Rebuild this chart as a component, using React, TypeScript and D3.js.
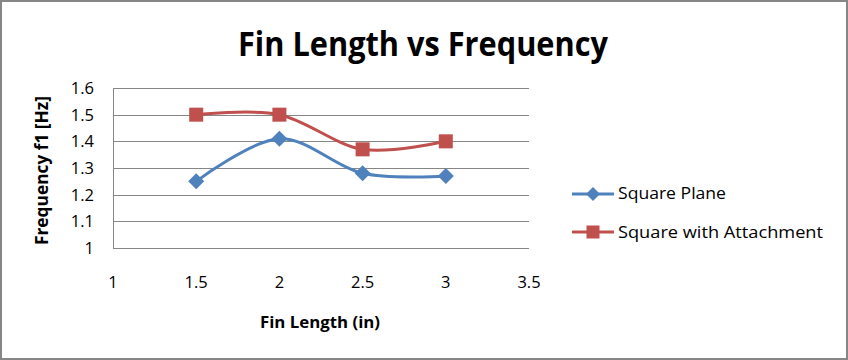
import React from "react";
import * as d3 from "d3";

const finLength = [1.5, 2, 2.5, 3];
const squarePlane = [1.25, 1.41, 1.28, 1.27];
const squareWithAttachment = [1.5, 1.5, 1.37, 1.4];
const xTicks = [1, 1.5, 2, 2.5, 3, 3.5];
const yTicks = [1, 1.1, 1.2, 1.3, 1.4, 1.5, 1.6];
const seriesNames = ["Square Plane", "Square with Attachment"];

const W = 848;
const H = 360;
const FONT = "'Open Sans', 'Liberation Sans', sans-serif";

export default function App() {
  const x = d3.scaleLinear().domain([1, 3.5]).range([113, 529]);
  const y = d3.scaleLinear().domain([1, 1.6]).range([248, 88]);
  const line = d3
    .line<number>()
    .x((_, i) => x(finLength[i]))
    .y((d) => y(d))
    .curve(d3.curveCatmullRom.alpha(0));

  const blue = "#4F81BD";
  const red = "#C0504D";

  const diamond = (cx: number, cy: number, r: number, key?: string) => (
    <path
      key={key}
      d={`M${cx},${cy - r}L${cx + r},${cy}L${cx},${cy + r}L${cx - r},${cy}Z`}
      fill={blue}
    />
  );
  const square = (cx: number, cy: number, s: number, key?: string) => (
    <rect key={key} x={cx - s / 2} y={cy - s / 2} width={s} height={s} fill={red} />
  );

  return (
    <svg
      width={W}
      height={H}
      style={{ position: "absolute", left: 0, top: 0, background: "#fff" }}
      fontFamily={FONT}
    >
      <rect x={1} y={1} width={W - 2} height={H - 2} fill="#fff" stroke="#868686" strokeWidth={2} />
      <text
        x={423}
        y={56}
        textAnchor="middle"
        fontSize={34}
        fontWeight="bold"
        fill="#000"
        textLength={370}
        lengthAdjust="spacingAndGlyphs"
      >
        Fin Length vs Frequency
      </text>

      {yTicks.map((t) => (
        <g key={t}>
          <line x1={113} x2={529} y1={Math.round(y(t)) + 0.5} y2={Math.round(y(t)) + 0.5} stroke="#868686" />
          <text x={94} y={y(t) + 6} textAnchor="end" fontSize={16.5} fill="#000">
            {t}
          </text>
        </g>
      ))}
      <line x1={113.5} x2={113.5} y1={88} y2={248} stroke="#868686" />

      {xTicks.map((t) => (
        <text key={t} x={x(t)} y={288} textAnchor="middle" fontSize={16.5} fill="#000">
          {t}
        </text>
      ))}

      <text
        x={320}
        y={328}
        textAnchor="middle"
        fontSize={16.5}
        fontWeight="bold"
        fill="#000"
        textLength={120}
        lengthAdjust="spacingAndGlyphs"
      >
        Fin Length (in)
      </text>
      <text
        transform={`translate(48,170.5) rotate(-90)`}
        textAnchor="middle"
        fontSize={17}
        fontWeight="bold"
        fill="#000"
        textLength={149}
        lengthAdjust="spacingAndGlyphs"
      >
        Frequency f1 [Hz]
      </text>

      <path d={line(squarePlane) || ""} fill="none" stroke={blue} strokeWidth={3} />
      <path d={line(squareWithAttachment) || ""} fill="none" stroke={red} strokeWidth={3} />
      {squarePlane.map((v, i) => diamond(x(finLength[i]), y(v), 8, "d" + i))}
      {squareWithAttachment.map((v, i) => square(x(finLength[i]), y(v), 14, "s" + i))}

      <line x1={572} x2={614} y1={194} y2={194} stroke={blue} strokeWidth={3} />
      {diamond(593, 194, 7)}
      <text x={618} y={199} fontSize={17} fill="#000" textLength={108} lengthAdjust="spacingAndGlyphs">
        {seriesNames[0]}
      </text>
      <line x1={572} x2={614} y1={232} y2={232} stroke={red} strokeWidth={3} />
      {square(593, 232, 13)}
      <text x={618} y={238} fontSize={17} fill="#000" textLength={205} lengthAdjust="spacingAndGlyphs">
        {seriesNames[1]}
      </text>
    </svg>
  );
}
